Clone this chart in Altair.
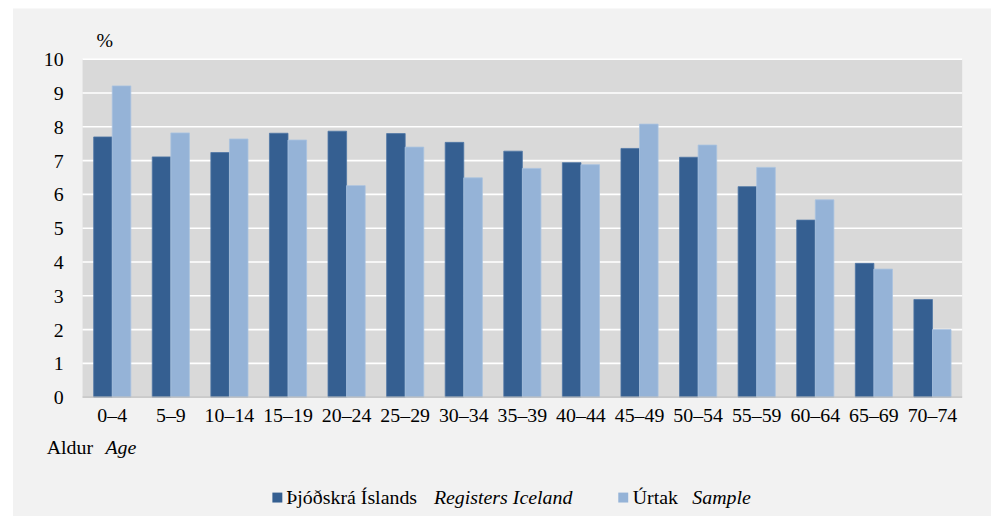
import altair as alt
import pandas as pd

AGES = ["0–4", "5–9", "10–14", "15–19", "20–24", "25–29", "30–34", "35–39",
        "40–44", "45–49", "50–54", "55–59", "60–64", "65–69", "70–74"]
SERIES = ["Þjóðskrá Íslands", "Úrtak"]
REGISTERS = [7.70, 7.11, 7.24, 7.81, 7.87, 7.80, 7.54, 7.28, 6.94, 7.36, 7.10, 6.23, 5.24, 3.96, 2.89]
SAMPLE = [9.21, 7.82, 7.64, 7.61, 6.26, 7.40, 6.49, 6.77, 6.88, 8.08, 7.46, 6.80, 5.84, 3.79, 2.00]
Y_TICKS = list(range(0, 11))
GRID_VALUES = list(range(1, 11))
BASE_VALUE = [0]
UNIT_LABEL = "%"
AXIS_TITLE = ["Aldur", "Age"]
LEGEND_MAIN = ["Þjóðskrá Íslands", "Úrtak"]
LEGEND_ITALIC = ["Registers Iceland", "Sample"]

DARK = "#355f91"
LIGHT = "#95b3d7"
DARK_EDGE = "#5077a6"
LIGHT_EDGE = "#a9c2df"
SERIF = "'Liberation Serif', 'Times New Roman', 'DejaVu Serif', serif"
W, H = 885, 340
YSCALE = alt.Scale(domain=[0, 10], nice=False)

rows = []
for i, a in enumerate(AGES):
    rows.append({"age": a, "series": SERIES[0], "value": REGISTERS[i]})
    rows.append({"age": a, "series": SERIES[1], "value": SAMPLE[i]})
df = pd.DataFrame(rows)
one = pd.DataFrame({"a": [0]})

outer_bg = alt.Chart(one).mark_rect(color="#f2f2f2").encode(
    x=alt.value(-70), x2=alt.value(914), y=alt.value(-51), y2=alt.value(480))
plot_bg = alt.Chart(one).mark_rect(color="#d9d9d9").encode(
    x=alt.value(0), x2=alt.value(W), y=alt.value(0), y2=alt.value(H))

grid = alt.Chart(pd.DataFrame({"v": GRID_VALUES})).mark_rule(color="white", strokeWidth=1.6).encode(
    y=alt.Y("v:Q", axis=None, scale=YSCALE))

ylabels = alt.Chart(pd.DataFrame({"v": Y_TICKS})).mark_text(
    align="right", baseline="middle", font=SERIF, fontSize=20, color="#000000", dy=1).encode(
    y=alt.Y("v:Q", axis=None, scale=YSCALE), x=alt.value(-19), text=alt.Text("v:Q"))

bars = alt.Chart(df).mark_bar(strokeWidth=0.8).encode(
    x=alt.X("age:N", sort=AGES,
            scale=alt.Scale(paddingInner=0.366, paddingOuter=0.19),
            axis=alt.Axis(title=None, labelAngle=0, labelPadding=8, ticks=False, domain=False, zindex=2,
                          labelFont=SERIF, labelFontSize=20, labelColor="#000000")),
    xOffset=alt.XOffset("series:N", sort=SERIES),
    y=alt.Y("value:Q", scale=YSCALE, axis=None),
    color=alt.Color("series:N", sort=SERIES, scale=alt.Scale(domain=SERIES, range=[DARK, LIGHT]), legend=None),
    stroke=alt.Stroke("series:N", scale=alt.Scale(domain=SERIES, range=[DARK_EDGE, LIGHT_EDGE]), legend=None),
)

base = alt.Chart(pd.DataFrame({"v": BASE_VALUE})).mark_rule(color="#bfbfbf", strokeWidth=1.2).encode(
    y=alt.Y("v:Q", axis=None, scale=YSCALE))

def txt(s, x, y, italic=False, align="left"):
    kw = dict(text=s, align=align, baseline="alphabetic", font=SERIF, fontSize=20, color="#000000")
    if italic:
        kw["fontStyle"] = "italic"
    return alt.Chart(one).mark_text(**kw).encode(x=alt.value(x), y=alt.value(y))

def sq(color, x, y):
    return alt.Chart(one).mark_square(color=color, opacity=1, size=100).encode(x=alt.value(x), y=alt.value(y))

texts = [
    txt(UNIT_LABEL, 14, -12),
    txt(AXIS_TITLE[0], -36, 397),
    txt(AXIS_TITLE[1], 23, 397, italic=True),
    sq(DARK, 196, 441),
    txt(LEGEND_MAIN[0], 205, 447.5),
    txt(LEGEND_ITALIC[0], 353.5, 447.5, italic=True),
    sq(LIGHT, 544, 441),
    txt(LEGEND_MAIN[1], 553.5, 447.5),
    txt(LEGEND_ITALIC[1], 613.5, 447.5, italic=True),
]

chart = alt.layer(outer_bg, plot_bg, grid, bars, base, ylabels, *texts).properties(
    width=W, height=H,
    autosize=alt.AutoSizeParams(type="none"),
    padding={"left": 75, "top": 50, "right": 29, "bottom": 118},
    background="white",
).configure_view(stroke=None)

chart.save("out.html", embed_options={"renderer": "svg", "actions": False})
